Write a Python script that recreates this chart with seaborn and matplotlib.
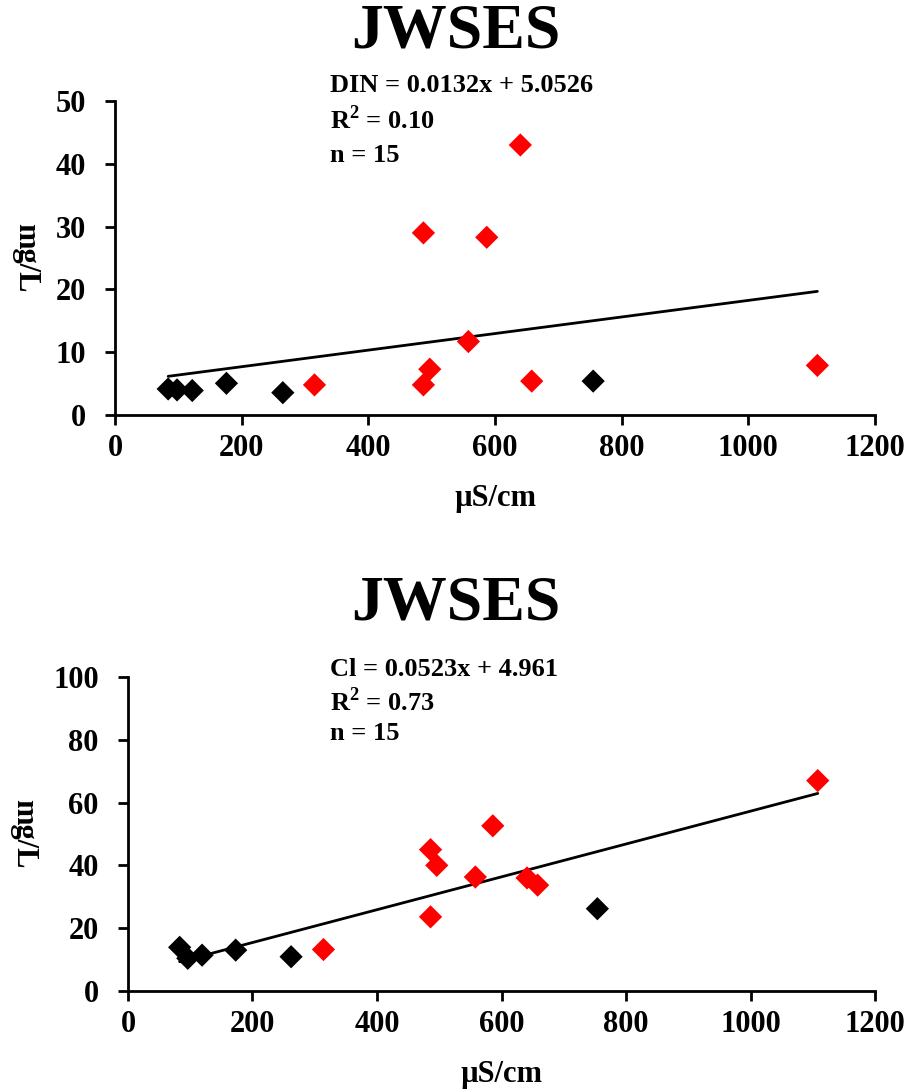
import matplotlib
matplotlib.use("Agg")
import matplotlib.pyplot as plt
import seaborn as sns
import pandas as pd
import numpy as np

sns.set_theme(style="white")
plt.rcParams['font.family'] = ['Liberation Serif', 'DejaVu Serif']
plt.rcParams['font.weight'] = 'bold'
plt.rcParams['text.color'] = 'black'
plt.rcParams['axes.labelcolor'] = 'black'
plt.rcParams['xtick.color'] = 'black'
plt.rcParams['ytick.color'] = 'black'
plt.rcParams['mathtext.fontset'] = 'custom'
plt.rcParams['mathtext.rm'] = 'Liberation Serif:bold'

# ---------------- data ----------------
ec_black = [84, 98, 122, 176, 265, 755]
ec_red = [315, 487, 487, 497, 558, 587, 640, 658, 1109]

din_black = [4.15, 4.0, 3.9, 5.05, 3.56, 5.4]
din_red = [4.8, 29.0, 4.8, 7.3, 11.7, 28.3, 43.0, 5.4, 7.9]

ec_black_cl = [83, 96, 119, 173, 262, 754]
ec_red_cl = [314, 486, 486, 496, 558, 586, 641, 658, 1108]
cl_black = [13.9, 10.4, 11.4, 13.0, 10.9, 26.2]
cl_red = [13.2, 45.0, 23.6, 40.0, 36.3, 52.6, 36.0, 33.7, 67.0]

din_slope, din_intercept = 0.0132, 5.0526
cl_slope, cl_intercept = 0.0523, 4.961

title_text = "JWSES"
din_lines = ["DIN = 0.0132x + 5.0526", "R$^{2}$ = 0.10", "n = 15"]
cl_lines = ["Cl = 0.0523x + 4.961", "R$^{2}$ = 0.73", "n = 15"]
x_label = "µS/cm"
y_label = "mg/L"
x_ticks = [0, 200, 400, 600, 800, 1000, 1200]
din_yticks = [0, 10, 20, 30, 40, 50]
cl_yticks = [0, 20, 40, 60, 80, 100]

fig = plt.figure(figsize=(9.11, 10.91), dpi=100)
ax1 = fig.add_axes([0.1262, 0.6196, 0.8343, 0.2878])
ax2 = fig.add_axes([0.1405, 0.0917, 0.8200, 0.2878])


def draw(ax, xb, yb, xr, yr, slope, intercept, yticks, lines, title_y, text_y0, text_dy, ylabelpad):
    df = pd.DataFrame({
        "x": list(xb) + list(xr),
        "y": list(yb) + list(yr),
        "g": ["b"] * len(xb) + ["r"] * len(xr),
    })
    xs = np.array([min(df["x"]), max(df["x"])])
    line_df = pd.DataFrame({"x": xs, "y": slope * xs + intercept})
    sns.lineplot(data=line_df, x="x", y="y", ax=ax, color="black", lw=2, zorder=2)
    sns.scatterplot(data=df, x="x", y="y", hue="g", palette={"b": "black", "r": "#ff0000"},
                    marker="D", s=140, linewidth=0, ax=ax, legend=False, zorder=3)
    ax.set_xlim(x_ticks[0], x_ticks[-1])
    ax.set_ylim(yticks[0], yticks[-1])
    ax.set_xticks(x_ticks)
    ax.set_yticks(yticks)
    for sp in ["top", "right"]:
        ax.spines[sp].set_visible(False)
    for sp in ["left", "bottom"]:
        ax.spines[sp].set_color("black")
        ax.spines[sp].set_linewidth(2)
    ax.tick_params(axis="both", direction="out", length=7, width=2, colors="black",
                   labelsize=22, left=True, bottom=True)
    ax.tick_params(axis="y", pad=14)
    ax.tick_params(axis="x", pad=7)
    for lab in ax.get_xticklabels() + ax.get_yticklabels():
        lab.set_fontweight("bold")
    ax.set_xlabel(x_label, fontsize=22, fontweight="bold", labelpad=15)
    ax.set_ylabel(y_label, fontsize=22, fontweight="bold", rotation=270, labelpad=32)
    fig.text(0.5, title_y, title_text, ha="center", va="center", fontsize=46, fontweight="bold")
    for i, t in enumerate(lines):
        fig.text(330 / 911, 1 - (text_y0 + i * text_dy) / 1091, t, ha="left", va="center",
                 fontsize=19, fontweight="bold")


draw(ax1, ec_black, din_black, ec_red, din_red, din_slope, din_intercept,
     din_yticks, din_lines, 1 - 32 / 1091, 85, 35, 32)
draw(ax2, ec_black_cl, cl_black, ec_red_cl, cl_red, cl_slope, cl_intercept,
     cl_yticks, cl_lines, 1 - 605 / 1091, 670, 32, 32)

fig.savefig("out.png", dpi=100)
